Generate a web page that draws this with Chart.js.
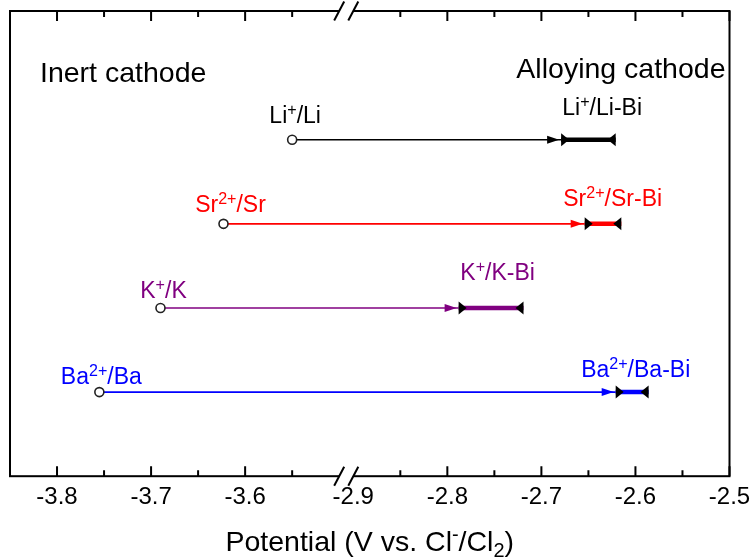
<!DOCTYPE html>
<html>
<head>
<meta charset="utf-8">
<title>Deposition potentials: inert vs alloying cathode</title>
<script src="https://cdn.jsdelivr.net/npm/chart.js@4.4.0/dist/chart.umd.min.js"></script>
<style>
  html, body { margin: 0; padding: 0; background: #fff; }
  #wrap { width: 752px; height: 558px; }
</style>
</head>
<body>
<div id="wrap"><canvas id="chart" width="752" height="558"></canvas></div>
<script>
// Data (V vs. Cl-/Cl2)
const categories = ['Li', 'Sr', 'K', 'Ba'];
const rowPositions = [4, 3, 2, 1];
const metalPotentials = [-3.550, -3.623, -3.690, -3.755];
const alloyStart = [-2.679, -2.654, -2.788, -2.621];
const alloyEnd = [-2.621, -2.615, -2.719, -2.586];
const majorTicks = [-3.8, -3.7, -3.6, -2.9, -2.8, -2.7, -2.6, -2.5];
const minorTicks = [-3.75, -3.65, -3.55, -2.85, -2.75, -2.65, -2.55];

// labels as [text, 'sup'|'sub'] pieces
const metalLabels = [
    [['Li'], ['+', 'sup'], ['/Li']],
    [['Sr'], ['2+', 'sup'], ['/Sr']],
    [['K'], ['+', 'sup'], ['/K']],
    [['Ba'], ['2+', 'sup'], ['/Ba']]
];
const alloyLabels = [
    [['Li'], ['+', 'sup'], ['/Li-Bi']],
    [['Sr'], ['2+', 'sup'], ['/Sr-Bi']],
    [['K'], ['+', 'sup'], ['/K-Bi']],
    [['Ba'], ['2+', 'sup'], ['/Ba-Bi']]
];

const seriesColors = ['#000000', '#ff0000', '#800080', '#0000ff'];
const FONT = '"Liberation Sans", Arial, "DejaVu Sans", sans-serif';

// axis break between -3.5 and -2.9
const breakFrom = -3.5;
const breakTo = -2.9;
const breakGap = 0.015;

function toAxis(v) {
    return v > breakFrom ? v - (breakTo - breakFrom) + breakGap : v;
}

// label offsets from their anchor point (px)
const metalLabelOffsets = [[3, -25], [7, -20], [3, -18], [2, -16]];
const alloyLabelOffsets = [[41, -33], [28, -26], [39, -36], [20, -23]];

/**
 * Draw text with superscripts / subscripts, vertically centred on y
 */
function drawRich(ctx, parts, x, y, size, color, align) {
    const small = size * 0.7;
    const widths = parts.map(p => {
        ctx.font = (p[1] ? small : size) + 'px ' + FONT;
        return ctx.measureText(p[0]).width;
    });
    const total = widths.reduce((a, b) => a + b, 0);
    let cx = align === 'left' ? x : align === 'right' ? x - total : x - total / 2;
    const baseline = y + size * 0.36;
    ctx.fillStyle = color;
    ctx.textAlign = 'left';
    ctx.textBaseline = 'alphabetic';
    parts.forEach((p, i) => {
        let dy = 0;
        if (p[1] === 'sup') dy = -size * 0.36;
        if (p[1] === 'sub') dy = size * 0.2;
        ctx.font = (p[1] ? small : size) + 'px ' + FONT;
        ctx.fillText(p[0], cx, baseline + dy);
        cx += widths[i];
    });
}

const datasets = [];
categories.forEach((name, i) => {
    // arrow from metal deposition potential to alloy potential
    datasets.push({
        label: name + ' shift',
        data: [
            { x: toAxis(metalPotentials[i]), y: rowPositions[i] },
            { x: toAxis(alloyStart[i]), y: rowPositions[i] }
        ],
        borderColor: seriesColors[i],
        borderWidth: 1.6,
        pointRadius: [4.5, 0],
        pointBorderWidth: 1.6,
        pointBackgroundColor: '#ffffff',
        pointBorderColor: '#222222',
        order: 2
    });
    // alloy range
    datasets.push({
        label: name + '-Bi',
        data: [
            { x: toAxis(alloyStart[i]), y: rowPositions[i] },
            { x: toAxis(alloyEnd[i]), y: rowPositions[i] }
        ],
        borderColor: seriesColors[i],
        borderWidth: 4.5,
        pointRadius: 0,
        order: 1
    });
});

const decorPlugin = {
    id: 'decor',
    afterDatasetsDraw(chart) {
        const ctx = chart.ctx;
        const xs = chart.scales.x;
        const ys = chart.scales.y;
        const area = chart.chartArea;
        ctx.save();

        categories.forEach((name, i) => {
            const y = ys.getPixelForValue(rowPositions[i]);
            const x0 = xs.getPixelForValue(toAxis(alloyStart[i]));
            const x1 = xs.getPixelForValue(toAxis(alloyEnd[i]));
            const xm = xs.getPixelForValue(toAxis(metalPotentials[i]));

            // arrow head
            const tip = x0 - 2;
            ctx.fillStyle = seriesColors[i];
            ctx.beginPath();
            ctx.moveTo(tip, y);
            ctx.lineTo(tip - 12, y - 4);
            ctx.lineTo(tip - 12, y + 4);
            ctx.closePath();
            ctx.fill();

            // end caps of alloy range
            ctx.fillStyle = '#000';
            ctx.beginPath();
            ctx.moveTo(x0, y - 6.5);
            ctx.lineTo(x0 + 8, y);
            ctx.lineTo(x0, y + 6.5);
            ctx.closePath();
            ctx.fill();
            ctx.beginPath();
            ctx.moveTo(x1, y - 6.5);
            ctx.lineTo(x1 - 8, y);
            ctx.lineTo(x1, y + 6.5);
            ctx.closePath();
            ctx.fill();

            drawRich(ctx, metalLabels[i], xm + metalLabelOffsets[i][0], y + metalLabelOffsets[i][1], 23, seriesColors[i], 'center');
            drawRich(ctx, alloyLabels[i], x0 + alloyLabelOffsets[i][0], y + alloyLabelOffsets[i][1], 23, seriesColors[i], 'center');
        });

        drawRich(ctx, [['Inert cathode']], area.left + 30, 72, 28.5, '#000', 'left');
        drawRich(ctx, [['Alloying cathode']], area.right - 4, 68, 28.5, '#000', 'right');

        // frame
        ctx.strokeStyle = '#000';
        ctx.lineWidth = 2;
        ctx.strokeRect(area.left, area.top, area.right - area.left, area.bottom - area.top);

        // inward ticks, top and bottom
        ctx.lineWidth = 2;
        const drawTick = (v, len) => {
            const x = xs.getPixelForValue(toAxis(v));
            ctx.beginPath();
            ctx.moveTo(x, area.bottom);
            ctx.lineTo(x, area.bottom - len);
            ctx.moveTo(x, area.top);
            ctx.lineTo(x, area.top + len);
            ctx.stroke();
        };
        majorTicks.forEach(v => { if (v !== breakTo) drawTick(v, 10); });
        minorTicks.forEach(v => drawTick(v, 6));

        // axis break marks
        const bx0 = xs.getPixelForValue(toAxis(breakFrom));
        const bx1 = xs.getPixelForValue(toAxis(breakTo));
        [area.top, area.bottom].forEach(yy => {
            ctx.fillStyle = '#fff';
            ctx.fillRect(bx0, yy - 3, bx1 - bx0, 6);
            ctx.strokeStyle = '#000';
            ctx.lineWidth = 2;
            [bx0, bx1].forEach(bx => {
                ctx.beginPath();
                ctx.moveTo(bx - 5, yy + 9.5);
                ctx.lineTo(bx + 5, yy - 9.5);
                ctx.stroke();
            });
        });

        // axis title
        drawRich(ctx, [['Potential (V vs. Cl'], ['-', 'sup'], ['/Cl'], ['2', 'sub'], [')']],
            (area.left + area.right) / 2, 541, 28.5, '#000', 'center');

        ctx.restore();
    }
};

new Chart(document.getElementById('chart'), {
    type: 'line',
    data: { datasets: datasets },
    options: {
        responsive: false,
        animation: false,
        events: [],
        layout: { padding: { left: 10, top: 11, right: 22.5, bottom: 39 } },
        plugins: {
            legend: { display: false },
            tooltip: { enabled: false }
        },
        scales: {
            x: {
                type: 'linear',
                min: -3.85,
                max: toAxis(-2.5),
                grid: { display: false, drawTicks: false },
                border: { display: false },
                afterBuildTicks: function(scale) {
                    scale.ticks = majorTicks.map(v => ({ value: toAxis(v) }));
                },
                afterFit: function(scale) {
                    // let the layout padding alone decide the plot edges
                    scale.paddingLeft = 0;
                    scale.paddingRight = 0;
                },
                ticks: {
                    autoSkip: false,
                    maxRotation: 0,
                    padding: 7,
                    color: '#000',
                    font: { family: FONT, size: 24 },
                    callback: function(value, index) {
                        return majorTicks[index].toFixed(1);
                    }
                }
            },
            y: {
                display: false,
                min: 0,
                max: 5.53
            }
        }
    },
    plugins: [decorPlugin]
});
</script>
</body>
</html>
